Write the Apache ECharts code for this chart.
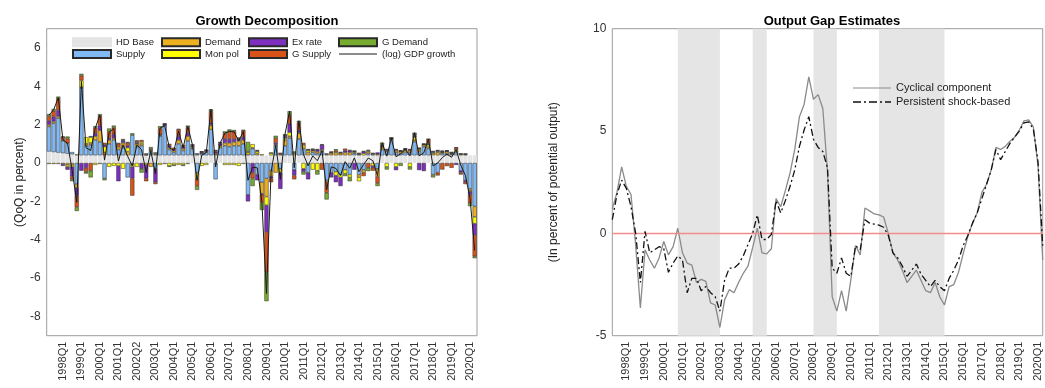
<!DOCTYPE html>
<html>
<head>
<meta charset="utf-8">
<script src="https://cdn.jsdelivr.net/npm/echarts@6/dist/echarts.min.js"></script>
<style>
html,body{margin:0;padding:0;background:#fff;}
#c{width:1045px;height:388px;}
</style>
</head>
<body>
<div id="c"></div>
<script>
// ---------- categories (quarters 1997Q2 .. 2020Q2) ----------
const quarters = [];
for (let y = 1997; y <= 2020; y++) for (let q = 1; q <= 4; q++) quarters.push(y + 'Q' + q);
const cats = quarters.slice(quarters.indexOf('1997Q2'), quarters.indexOf('2020Q2') + 1);

// tick labels as printed
const leftTicks = ['1998Q1','1999Q1','2000Q1','2001Q1','2002Q2','2003Q1','2004Q1','2005Q1','2006Q1','2007Q1','2008Q1','2009Q1','2010Q1','2011Q1','2012Q1','2013Q1','2014Q1','2015Q1','2016Q1','2017Q1','2018Q1','2019Q1','2020Q1'];
const rightTicks = ['1998Q1','1999Q1','2000Q1','2001Q1','2002Q1','2003Q1','2004Q1','2005Q1','2006Q1','2007Q1','2008Q1','2009Q1','2010Q1','2011Q1','2012Q1','2013Q1','2014Q1','2015Q1','2016Q1','2017Q1','2018Q1','2019Q1','2020Q1'];

// ---------- Growth decomposition ----------
const hdBase = [0.6,0.57,0.54,0.51,0.48,0.45,0.4,0.4,0.4,0.4,0.4,0.4,0.4,0.4,0.4,0.4,0.4,0.4,0.4,0.4,0.4,0.4,0.4,0.4,0.4,0.4,0.4,0.4,0.4,0.4,0.4,0.4,0.4,0.4,0.4,0.4,0.4,0.4,0.4,0.4,0.4,0.4,0.4,0.4,0.4,0.4,0.4,0.4,0.4,0.4,0.4,0.4,0.4,0.4,0.4,0.4,0.4,0.4,0.4,0.4,0.4,0.4,0.4,0.4,0.4,0.4,0.4,0.4,0.4,0.4,0.4,0.4,0.4,0.4,0.4,0.4,0.4,0.4,0.4,0.4,0.4,0.4,0.4,0.4,0.4,0.4,0.4,0.4,0.4,0.4,0.4,0.4,0.4];
const supply = [1.3,1.5,1.8,0.65,0.55,0.12,-1.1,3.5,0.5,0.55,0.8,0.7,-0.8,0.6,0.8,0.3,0.4,-0.75,1.05,0.45,0.5,0.02,0.2,-0.3,1.0,1.55,0.3,0.15,0.6,0.25,0.75,0.35,-0.5,0.1,0.15,1.35,-0.85,0.4,0.5,0.45,0.5,0.5,0.6,-1.65,0.35,-0.6,-1.0,-0.8,-0.4,0.5,-0.3,0.5,0.9,-0.35,0.85,0.35,-0.5,0.15,0.1,0.2,-0.9,-0.5,-0.45,-0.6,-0.35,-0.6,0.1,-0.6,-0.35,0.1,0.05,-0.3,0.3,0.2,0.8,0.15,0.1,0.15,0.15,0.7,0.2,0.45,0.35,-0.6,-0.5,0.1,0.1,0.05,0.15,-0.4,-0.9,-1.35,-2.26];
const demand = [0.1,0.1,0.1,0.05,-0.1,-0.1,-0.2,0.05,0.1,0.1,0.2,0.6,0.15,0.2,0.1,0.15,0.25,0.2,-0.1,0.15,0.1,-0.1,-0.2,0.05,0.05,0.02,0.1,0.1,0.2,0.1,0.25,0.05,-0.3,0.02,0.05,0.2,0.05,0.1,0.15,0.2,0.2,0.25,0.2,0.05,0.05,0.1,-0.6,-0.95,-0.3,-0.5,0.05,0.3,0.1,0.1,0.3,0.2,0.15,0.1,0.1,0.05,-0.1,0.1,0.15,0.1,0.15,0.15,0.05,-0.15,-0.15,0.1,0.05,-0.4,0.1,0.05,0.05,0.1,0.1,0.1,0.1,0.1,0.1,0.1,0.1,0.1,0.15,0.05,0.1,0.05,0.1,0.05,0.05,-0.1,-0.55];
const monPol = [-0.05,-0.05,-0.05,-0.05,-0.1,-0.1,0.05,0.35,0.35,0.3,-0.1,-0.05,0.3,-0.2,-0.15,-0.15,-0.3,0.2,-0.1,-0.2,0.1,0.05,0.05,0.05,-0.1,-0.05,-0.15,-0.1,-0.1,-0.1,-0.05,0.05,0.05,-0.15,-0.1,0.05,0.05,0.02,-0.1,-0.1,-0.1,-0.15,-0.05,0.1,0.18,0.1,0.05,-0.45,0.1,0.05,-0.2,0.1,0.2,0.05,0.05,-0.3,0.1,-0.35,-0.4,0.05,0.05,0.05,-0.2,-0.15,-0.2,-0.15,0.05,-0.2,0.1,0.05,-0.15,0.05,0.05,-0.2,0.02,-0.2,0.02,0.05,-0.2,0.15,0.05,0.02,0.1,0.05,0.05,0.02,0.02,0.02,0.05,0.03,0.02,-0.05,-0.35];
const exRate = [0.2,0.25,0.3,-0.1,-0.15,-0.5,-0.4,-0.4,-0.25,0.05,0.15,0.25,0.1,0.1,0.2,-0.8,0.1,0.1,-0.6,0.05,-0.3,-0.7,0.05,-0.7,0.05,0.05,0.1,0.05,0.2,0.1,0.15,0.05,0.05,0.05,0.05,0.1,0.1,0.1,0.2,0.2,0.15,0.1,0.15,-0.35,-0.5,-0.3,-0.05,-1.4,-0.1,0.1,-0.85,0.1,0.45,-0.3,0.1,-0.15,-0.35,0.02,0.1,0.25,0.05,-0.25,-0.35,-0.45,0.1,0.1,-0.35,0.05,0.1,0.03,-0.1,0.1,0.05,0.05,0.02,-0.17,0.02,0.02,0.05,0.1,-0.37,-0.42,0.05,0.05,0.05,0.05,0.02,0.03,-0.1,-0.1,-0.1,-0.15,-0.6];
const gSupply = [0.25,0.3,0.6,0.15,0.25,-0.15,-0.6,0.25,-0.2,-0.4,0.3,0.5,0.1,0.35,0.35,0.15,0.05,0.15,-0.9,0.1,0.1,-0.15,0.05,-0.1,0.3,0.02,0.1,0.1,0.35,0.1,0.3,0.05,-0.4,0.02,0.02,0.6,0.05,0.05,0.3,0.4,0.4,0.05,0.35,0.05,-0.3,0.05,-0.4,-2.1,-0.2,0.25,0.05,0.05,0.45,-0.2,0.4,0.1,0.05,0.05,0.02,-0.35,-0.55,0.02,0.1,0.05,0.1,0.03,0.02,0.05,-0.18,-0.25,-0.15,-0.35,0.05,0.02,0.02,0.05,0.02,0.02,0.02,0.05,0.02,0.02,0.24,0.02,-0.15,-0.34,-0.16,-0.25,0.1,-0.1,-0.1,-0.45,-1.1];
const gDemand = [0.1,0.1,0.12,0.02,0.1,-0.1,-0.2,0.1,-0.1,-0.35,0.07,0.1,-0.1,0.15,0.1,0.05,0.05,0.05,0.1,0.02,-0.2,0.02,0.08,0.05,0.12,0.02,-0.05,-0.05,0.02,-0.05,0.1,0.02,-0.2,0.02,0.02,0.1,0.02,0.02,0.1,0.1,0.07,0.02,0.02,0.5,-0.4,0.02,-0.4,-1.5,0.05,0.12,0.02,0.05,0.2,0.05,0.1,-0.15,0.02,0.02,-0.2,0.03,-0.35,0.02,0.07,0.02,-0.13,-0.2,0.02,0.02,0.02,-0.17,0.02,-0.15,0.11,-0.14,0.02,0.02,-0.15,0.02,-0.14,0.08,0.02,0.02,0.02,-0.15,0.02,0.02,0.02,0.02,0.02,0.02,0.02,-0.15,-0.1];
const gdpGrowth = [2.5,2.77,3.41,1.21,1.03,-0.38,-2.05,4.25,0.8,0.65,1.82,2.5,0.15,1.6,1.8,0.1,0.95,0.35,-0.15,0.95,0.7,-0.5,0.63,-0.55,1.82,1.95,0.8,0.65,1.67,0.8,1.9,0.95,-0.9,0.4,0.55,2.8,-0.2,1.05,1.55,1.65,1.62,1.15,1.65,-0.9,-0.22,-0.25,-2.0,-6.8,-0.45,0.92,-0.85,1.5,2.7,-0.25,2.2,0.45,-0.15,0.37,0.12,0.63,-1.4,-0.2,-0.28,-0.65,0.07,-0.27,0.27,-0.45,-0.08,0.26,0.12,-0.65,1.06,0.36,1.27,0.33,0.47,0.72,0.38,1.58,0.38,0.53,1.24,-0.15,0.0,0.28,0.46,0.3,0.7,-0.12,-0.65,-1.85,-4.56];

// ---------- Output gap ----------
const cyclical = [1.2,2.0,3.25,2.3,1.9,-0.6,-3.65,-0.8,-1.3,-1.7,-1.2,-0.4,-1.05,-0.65,0.25,-0.95,-1.45,-1.55,-2.4,-2.25,-2.35,-3.4,-3.5,-4.6,-3.25,-2.75,-2.9,-2.4,-1.95,-1.6,-0.7,0.26,-0.95,-1.0,-0.75,1.7,1.3,2.1,2.95,4.1,5.7,6.3,7.65,6.55,6.78,6.1,3.0,-3.1,-3.8,-2.8,-3.8,-2.25,-0.6,-1.05,1.24,1.1,0.95,0.9,0.8,0.0,-0.96,-1.3,-1.8,-2.4,-2.1,-1.8,-2.3,-2.8,-2.9,-2.4,-3.1,-3.5,-2.6,-2.5,-1.9,-1.0,-0.15,0.5,1.0,2.0,2.4,3.1,4.2,4.1,4.25,4.5,4.7,5.05,5.5,5.55,5.2,3.3,-1.3];
const persistent = [0.67,1.9,2.6,2.2,1.3,0.0,-2.4,0.1,-0.95,-0.8,-0.65,-0.75,-1.9,-1.45,-1.1,-1.3,-2.9,-2.2,-2.2,-2.8,-2.6,-2.9,-3.1,-3.8,-2.3,-1.7,-1.7,-1.5,-1.1,-0.55,0.0,0.9,-0.3,-0.3,-0.05,1.6,1.0,1.6,2.3,3.1,4.25,5.05,5.7,4.6,4.2,4.0,3.2,-1.7,-1.95,-1.2,-1.95,-2.1,-0.6,-0.8,0.67,0.5,0.45,0.4,0.3,-0.1,-0.96,-1.2,-1.6,-2.1,-1.8,-1.5,-2.0,-2.3,-2.6,-2.3,-2.6,-2.8,-2.2,-1.8,-1.3,-0.6,-0.1,0.5,1.0,1.7,2.4,3.1,4.1,3.6,4.0,4.4,4.7,5.0,5.4,5.45,5.1,3.5,-0.6];
const shadePeriods = [['2000Q4','2003Q1'],['2004Q4','2005Q3'],['2008Q1','2009Q2'],['2011Q3','2015Q1']];
const zeroLevel = [0];

// ---------- chart ----------
const FONT = '"Liberation Sans", Arial, Helvetica, sans-serif';
const edge = '#2a2a2a';
const barSeries = [
  {name:'HD Base', data:hdBase, color:'#e4e4e4', border:'#e4e4e4', bw:1},
  {name:'Supply', data:supply, color:'#80b9f4', border:edge, bw:0.5},
  {name:'Demand', data:demand, color:'#edb120', border:edge, bw:0.5},
  {name:'Mon pol', data:monPol, color:'#ffff00', border:edge, bw:0.5},
  {name:'Ex rate', data:exRate, color:'#7e2fbe', border:edge, bw:0.5},
  {name:'G Supply', data:gSupply, color:'#d95319', border:edge, bw:0.5},
  {name:'G Demand', data:gDemand, color:'#77ac30', border:edge, bw:0.5}
].map(s => ({
  name: s.name, type:'bar', xAxisIndex:0, yAxisIndex:0, stack:'hd',
  data: s.data, barCategoryGap:'10%', z:2,
  itemStyle:{color:s.color, borderColor:s.border, borderWidth:s.bw},
  emphasis:{disabled:true}
}));

const tickFn = (idx) => idx >= 3 && (idx - 3) % 4 === 0;

// legend icons
const solidIcon = 'path://M0,0H38V1H0Z';
const dashDotIcon = 'path://M0,0H8V1.3H0Z M11,0H13V1.3H11Z M16,0H24V1.3H16Z M27,0H29V1.3H27Z M32,0H38V1.3H32Z';

const legendCommon = {
  orient:'vertical', itemWidth:38, itemHeight:8, itemGap:0, selectedMode:false, padding:0,
  textStyle:{fontSize:9.5, color:'#222', fontFamily:FONT, lineHeight:11.7}
};

const option = {
  animation:false,
  backgroundColor:'#fff',
  textStyle:{fontFamily:FONT},
  title:[
    {text:'Growth Decomposition', left:262, top:10, textAlign:'center',
     textStyle:{fontSize:13, fontWeight:'bold', color:'#000', fontFamily:FONT}},
    {text:'Output Gap Estimates', left:827, top:10, textAlign:'center',
     textStyle:{fontSize:13, fontWeight:'bold', color:'#000', fontFamily:FONT}}
  ],
  legend:[
    Object.assign({}, legendCommon, {data:[{name:'HD Base',icon:'rect'},{name:'Supply',icon:'rect'}], left:72, top:36.5}),
    Object.assign({}, legendCommon, {data:[{name:'Demand',icon:'rect'},{name:'Mon pol',icon:'rect'}], left:161, top:36.5}),
    Object.assign({}, legendCommon, {data:[{name:'Ex rate',icon:'rect'},{name:'G Supply',icon:'rect'}], left:248, top:36.5}),
    Object.assign({}, legendCommon, {data:[{name:'G Demand',icon:'rect'},{name:'(log) GDP growth', icon:solidIcon}], left:338, top:36.5}),
    {orient:'vertical', left:853, top:81, padding:0,
     data:[{name:'Cyclical component', icon:solidIcon}, {name:'Persistent shock-based', icon:dashDotIcon}],
     itemWidth:38, itemHeight:10, itemGap:0, selectedMode:false,
     textStyle:{fontSize:11, color:'#222', fontFamily:FONT, lineHeight:14}}
  ],
  grid:[
    {left:46.7, right:568, top:28.7, bottom:52.3, show:true, borderColor:'#9c9c9c', borderWidth:1, backgroundColor:'transparent'},
    {left:612.3, right:2.3, top:28.7, bottom:52.3, show:true, borderColor:'#9c9c9c', borderWidth:1, backgroundColor:'transparent'}
  ],
  xAxis:[
    {type:'category', gridIndex:0, data:cats, boundaryGap:true,
     axisLine:{show:false}, axisTick:{show:false}, splitLine:{show:false},
     axisLabel:{rotate:90, interval:tickFn, margin:6, fontSize:11, color:'#333', fontFamily:FONT,
       formatter:(v, idx) => leftTicks[(idx - 3) / 4] || ''}},
    {type:'category', gridIndex:1, data:cats, boundaryGap:false,
     axisLine:{show:false, onZero:false}, axisTick:{show:false}, splitLine:{show:false},
     axisLabel:{rotate:90, interval:tickFn, margin:6, fontSize:11, color:'#333', fontFamily:FONT,
       formatter:(v, idx) => rightTicks[(idx - 3) / 4] || ''}}
  ],
  yAxis:[
    {type:'value', gridIndex:0, min:-9, max:7, interval:1,
     name:'(QoQ in percent)', nameLocation:'middle', nameGap:11, nameRotate:90,
     nameTextStyle:{fontSize:12, color:'#222', fontFamily:FONT},
     axisLine:{show:false}, axisTick:{show:false}, splitLine:{show:false},
     axisLabel:{fontSize:12, color:'#333', margin:6, fontFamily:FONT,
       formatter:(v) => (Math.round(v) % 2 === 0 ? String(v) : '')}},
    {type:'value', gridIndex:1, min:-5, max:10, interval:5,
     name:'(In percent of potential output)', nameLocation:'middle', nameGap:53, nameRotate:90,
     nameTextStyle:{fontSize:12, color:'#222', fontFamily:FONT},
     axisLine:{show:false}, axisTick:{show:false}, splitLine:{show:false},
     axisLabel:{fontSize:12, color:'#333', margin:6, fontFamily:FONT}}
  ],
  series: barSeries.concat([
    {name:'(log) GDP growth', type:'line', xAxisIndex:0, yAxisIndex:0, data:gdpGrowth,
     symbol:'none', z:5, lineStyle:{color:'#1a1a1a', width:1}, itemStyle:{color:'#1a1a1a'},
     emphasis:{disabled:true}},
    {name:'shade', type:'line', xAxisIndex:1, yAxisIndex:1, data:cyclical, symbol:'none', z:1,
     silent:true, lineStyle:{opacity:0, width:0},
     markArea:{silent:true, itemStyle:{color:'#e5e5e5'},
       data: shadePeriods.map(p => [{xAxis:p[0]}, {xAxis:p[1]}])}},
    {name:'zero', type:'line', xAxisIndex:1, yAxisIndex:1, data:cyclical, symbol:'none', z:2,
     silent:true, color:'#f28c8c', lineStyle:{opacity:0, width:0},
     markLine:{silent:true, symbol:['none','none'], label:{show:false},
       lineStyle:{color:'#f28c8c', width:1.3, type:'solid', opacity:1},
       data: zeroLevel.map(v => ({yAxis:v}))}},
    {name:'Cyclical component', type:'line', xAxisIndex:1, yAxisIndex:1, data:cyclical,
     symbol:'none', z:4, lineStyle:{color:'#8a8a8a', width:1.3}, itemStyle:{color:'#8a8a8a'},
     emphasis:{disabled:true}},
    {name:'Persistent shock-based', type:'line', xAxisIndex:1, yAxisIndex:1, data:persistent,
     symbol:'none', z:5, lineStyle:{color:'#111', width:1.3, type:[7,3,2,3]}, itemStyle:{color:'#111'},
     emphasis:{disabled:true}}
  ])
};

const chart = echarts.init(document.getElementById('c'), null, {renderer:'canvas'});
chart.setOption(option);
</script>
</body>
</html>
